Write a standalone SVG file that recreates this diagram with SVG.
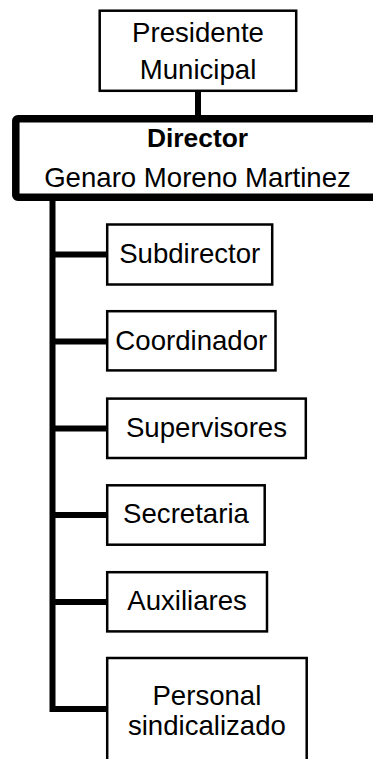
<svg xmlns="http://www.w3.org/2000/svg" width="373" height="759" viewBox="0 0 373 759">
<style>
text{font-family:"Liberation Sans",Arial,sans-serif;font-size:27.6px;fill:#000;text-anchor:middle}
.b{font-weight:bold;font-size:26.4px}
.box{fill:#fff;stroke:#000;stroke-width:2.5}
.dir{fill:#fff;stroke:#000;stroke-width:7.5;stroke-linejoin:round}
.con{fill:none;stroke:#000;stroke-width:6;stroke-linejoin:miter}
</style>
<rect width="373" height="759" fill="#fff"/>
<g id="connectors">
<path class="con" d="M198 91V119"/>
<path class="con" d="M52.5 198V709H107"/>
<path class="con" d="M52.5 254.5H107"/>
<path class="con" d="M52.5 341.5H107"/>
<path class="con" d="M52.5 428.5H107"/>
<path class="con" d="M52.5 515H107"/>
<path class="con" d="M52.5 602H107"/>
</g>
<g id="presidente">
<rect class="box" x="99.7" y="10.7" width="196.5" height="80.1"/>
<text x="198" y="41.7">Presidente</text>
<text x="198" y="79.3">Municipal</text>
</g>
<g id="director">
<rect class="dir" x="15.8" y="118.8" width="400" height="78.4" rx="2"/>
<text class="b" x="197.5" y="146.7">Director</text>
<text x="197.5" y="187.3">Genaro Moreno Martinez</text>
</g>
<g id="subdirector">
<rect class="box" x="107.2" y="224.5" width="165" height="60"/>
<text x="189.7" y="262.7">Subdirector</text>
</g>
<g id="coordinador">
<rect class="box" x="107.2" y="311.2" width="168.3" height="59.2"/>
<text x="191.3" y="350">Coordinador</text>
</g>
<g id="supervisores">
<rect class="box" x="107.2" y="398.6" width="198.6" height="59.4"/>
<text x="206.5" y="436.7">Supervisores</text>
</g>
<g id="secretaria">
<rect class="box" x="107.2" y="485.3" width="157.5" height="59.4"/>
<text x="186" y="522.7">Secretaria</text>
</g>
<g id="auxiliares">
<rect class="box" x="107.2" y="572.2" width="159.8" height="59.2"/>
<text x="187.1" y="610">Auxiliares</text>
</g>
<g id="personal">
<rect class="box" x="107.2" y="658" width="199.5" height="120"/>
<text x="206.9" y="705">Personal</text>
<text x="206.9" y="734.5">sindicalizado</text>
</g>
</svg>
